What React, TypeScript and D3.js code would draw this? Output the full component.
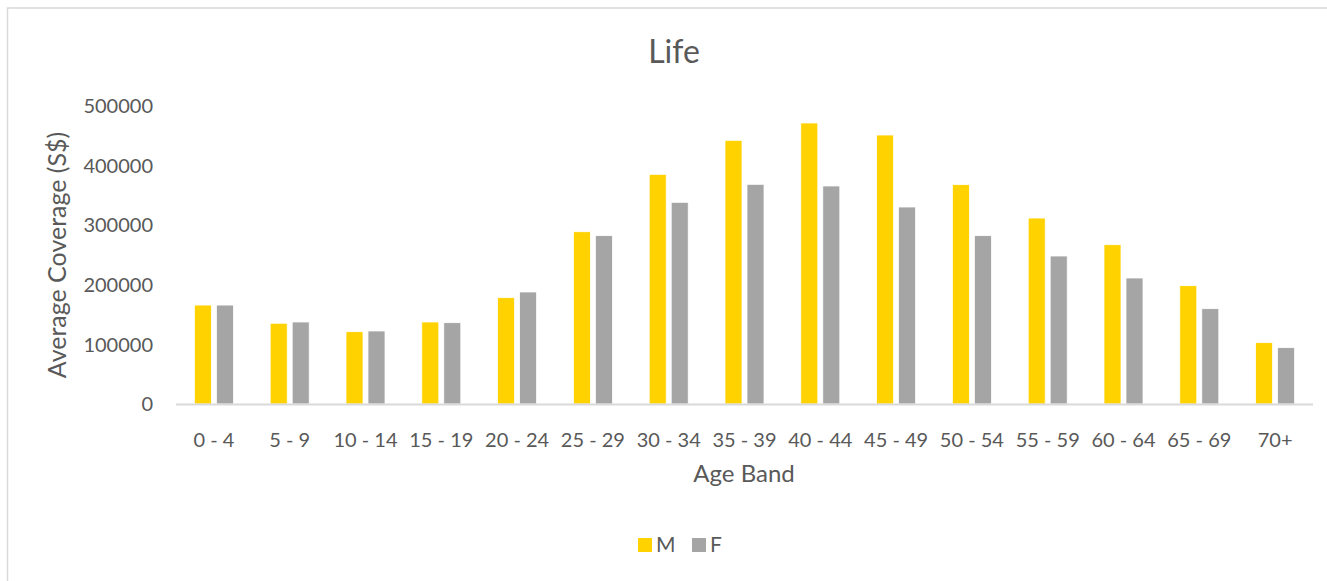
import React from 'react';
import * as d3 from 'd3';

// chart data
const ageBands = ['0 - 4', '5 - 9', '10 - 14', '15 - 19', '20 - 24', '25 - 29', '30 - 34', '35 - 39',
	'40 - 44', '45 - 49', '50 - 54', '55 - 59', '60 - 64', '65 - 69', '70+'];
const maleValues = [166000, 135500, 121300, 137600, 178400, 289000, 385400, 442400,
	471500, 451300, 368000, 312000, 267300, 198500, 102900];
const femaleValues = [166000, 137600, 122500, 136400, 187900, 282400, 338400, 368600,
	365800, 330500, 282400, 248300, 211400, 159900, 94500];
const yTicks = [0, 100000, 200000, 300000, 400000, 500000];
const seriesNames = ['M', 'F'];

const W = 1327;
const H = 581;
const FONT = 'Lato, "DejaVu Sans", sans-serif';
const TEXT = '#595959';
const colors = { M: '#FFD200', F: '#A5A5A5' };

const App = () => {
	const x = d3.scaleBand().domain(ageBands).range([176, 1313]);
	const bw = x.bandwidth();
	const inner = d3.scaleBand().domain(seriesNames)
		.range([bw / 2 - 19.5, bw / 2 + 19.5])
		.paddingInner(0.227);
	const y = d3.scaleLinear().domain([0, 500000]).range([404, 106]);

	const rows = ageBands.map((band, i) => ({ band, M: maleValues[i], F: femaleValues[i] }));

	return (
		<svg width={W} height={H} style={{ position: 'absolute', left: 0, top: 0 }} fontFamily={FONT}>
			<rect x={0} y={0} width={W} height={H} fill="#fff"/>
			{/* chart frame runs off the right and bottom of the shot */}
			<path d={`M7.5,${ H }V8H${ W }`} fill="none" stroke="#D9D9D9" strokeWidth={1.5}/>

			<text x={674} y={63} textAnchor="middle" fontSize={32} fill={TEXT}>Life</text>

			{yTicks.map((t) => (
				<text key={t} x={153} y={y(t)} dy="0.36em" textAnchor="end" fontSize={20} fill={TEXT}>{t}</text>
			))}

			{rows.map((r) => (
				<g key={r.band} transform={`translate(${ x(r.band) },0)`}>
					{seriesNames.map((s) => (
						<rect key={s}
							x={inner(s)}
							y={y(r[s])}
							width={inner.bandwidth()}
							height={y(0) - y(r[s])}
							fill={colors[s]}
							stroke="#fff"
							strokeWidth={0.75}/>
					))}
					<text x={bw / 2} y={440} dy="0.36em" textAnchor="middle" fontSize={20} fill={TEXT}>{r.band}</text>
				</g>
			))}

			<line x1={176} x2={1313} y1={y(0) + 0.5} y2={y(0) + 0.5} stroke="#D9D9D9" strokeWidth={2}/>

			<text x={744} y={473} dy="0.36em" textAnchor="middle" fontSize={24} fill={TEXT}>Age Band</text>
			<text transform={`translate(57,${ (y(0) + y(500000)) / 2 }) rotate(-90)`} dy="0.36em"
				textAnchor="middle" fontSize={25} fill={TEXT}>Average Coverage (S$)</text>

			<g>
				<rect x={638} y={538} width={14} height={14} fill={colors.M}/>
				<text x={656} y={552} fontSize={21} fill={TEXT}>M</text>
				<rect x={692} y={538} width={14} height={14} fill={colors.F}/>
				<text x={710} y={552} fontSize={21} fill={TEXT}>F</text>
			</g>
		</svg>
	);
};

export default App;
